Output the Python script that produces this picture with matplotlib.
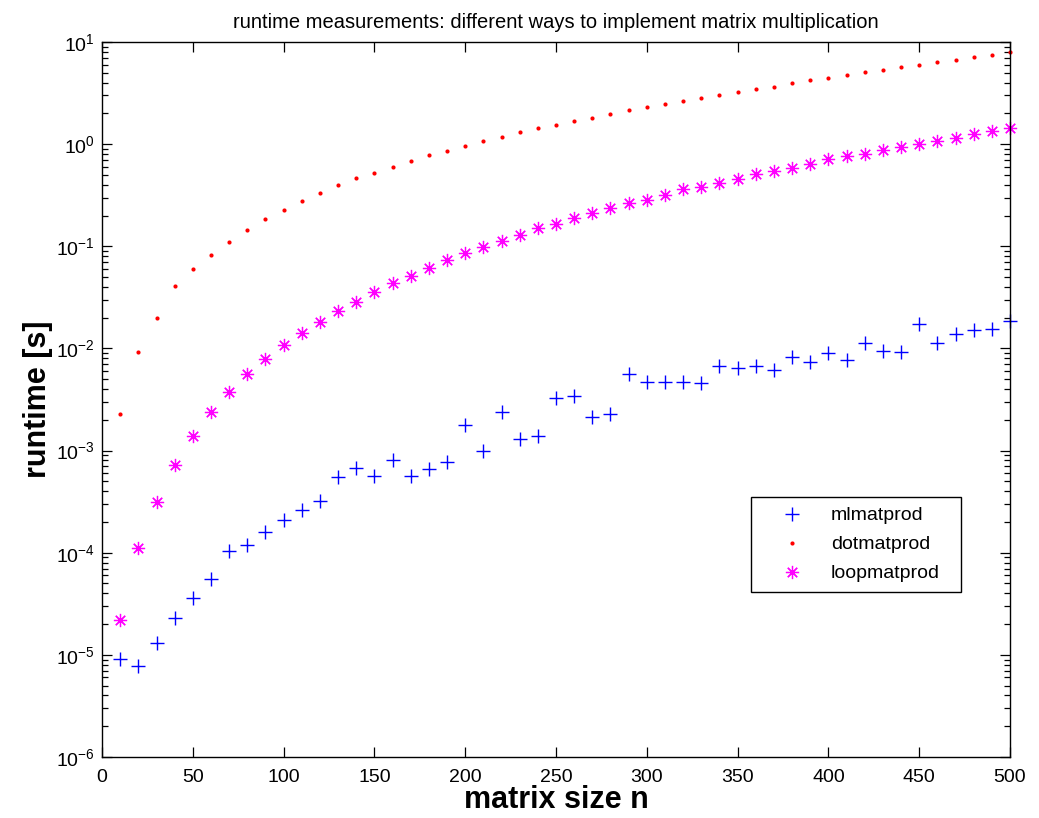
import numpy as np
import matplotlib
matplotlib.use("Agg")
import matplotlib.pyplot as plt

plt.rcParams['font.family'] = ['Liberation Sans', 'DejaVu Sans']
plt.rcParams['mathtext.fontset'] = 'custom'
plt.rcParams['mathtext.rm'] = 'Liberation Sans'
plt.rcParams['mathtext.it'] = 'Liberation Sans:italic'
plt.rcParams['mathtext.bf'] = 'Liberation Sans:bold'

# matrix sizes
n = list(range(10, 501, 10))

# runtime in seconds, built-in matrix product
mlmatprod = [9.1e-6, 7.7e-6, 1.3e-5, 2.3e-5, 3.6e-5, 5.5e-5, 1.05e-4, 1.18e-4, 1.6e-4, 2.1e-4,
             2.6e-4, 3.2e-4, 5.5e-4, 6.7e-4, 5.6e-4, 8.1e-4, 5.6e-4, 6.6e-4, 7.8e-4, 1.78e-3,
             1.0e-3, 2.4e-3, 1.29e-3, 1.38e-3, 3.24e-3, 3.45e-3, 2.14e-3, 2.3e-3, 5.6e-3, 4.65e-3,
             4.65e-3, 4.65e-3, 4.57e-3, 6.65e-3, 6.5e-3, 6.76e-3, 6.2e-3, 8.3e-3, 7.4e-3, 9.1e-3,
             7.7e-3, 1.13e-2, 9.4e-3, 9.25e-3, 1.75e-2, 1.12e-2, 1.39e-2, 1.51e-2, 1.55e-2, 1.87e-2]

# runtime in seconds, row-times-column dot products
dotmatprod = [2.26e-3, 9.25e-3, 2.0e-2, 4.08e-2, 5.98e-2, 8.14e-2, 0.109, 0.144, 0.183, 0.228,
              0.277, 0.334, 0.394, 0.461, 0.520, 0.595, 0.676, 0.774, 0.859, 0.954,
              1.077, 1.18, 1.31, 1.43, 1.54, 1.69, 1.82, 1.98, 2.14, 2.29,
              2.48, 2.65, 2.85, 3.05, 3.25, 3.44, 3.66, 3.94, 4.21, 4.48,
              4.76, 5.05, 5.36, 5.65, 6.0, 6.42, 6.71, 7.07, 7.46, 7.91]

# runtime in seconds, triple loop
loopmatprod = [2.2e-5, 1.12e-4, 3.16e-4, 7.2e-4, 1.38e-3, 2.36e-3, 3.71e-3, 5.6e-3, 7.8e-3, 1.07e-2,
               1.41e-2, 1.83e-2, 2.31e-2, 2.87e-2, 3.56e-2, 4.41e-2, 5.16e-2, 6.18e-2, 7.40e-2, 8.53e-2,
               9.75e-2, 0.112, 0.129, 0.152, 0.166, 0.187, 0.210, 0.235, 0.263, 0.285,
               0.315, 0.366, 0.379, 0.419, 0.451, 0.505, 0.543, 0.590, 0.641, 0.718,
               0.757, 0.809, 0.871, 0.927, 1.007, 1.08, 1.16, 1.25, 1.34, 1.43]

fig = plt.figure(figsize=(10.39, 8.18), dpi=100)
ax = fig.add_axes([0.0982, 0.0746, 0.8739, 0.8741])

# eight-armed asterisk (a '+' overlaid with an 'x')
asterisk = (8, 2, 0)
ax.plot(n, mlmatprod, linestyle='none', marker='+', markersize=9.5, markeredgewidth=1.0,
        color='#0000ff', label='mlmatprod', clip_on=False)
ax.plot(n, dotmatprod, linestyle='none', marker='o', markersize=3.0, markeredgewidth=0,
        color='#ff0000', label='dotmatprod', clip_on=False)
ax.plot(n, loopmatprod, linestyle='none', marker=asterisk, markersize=9.5, markeredgewidth=0.9,
        color='#ff00ff', label='loopmatprod', clip_on=False)

ax.set_yscale('log')
ax.set_xlim(0, 500)
ax.set_ylim(1e-6, 10)
ax.set_xticks(np.arange(0, 501, 50))
ax.yaxis.set_major_locator(matplotlib.ticker.FixedLocator([10.0 ** k for k in range(-6, 2)]))
ax.yaxis.set_major_formatter(matplotlib.ticker.LogFormatterSciNotation())
ax.yaxis.set_minor_locator(matplotlib.ticker.FixedLocator(
    [m * 10.0 ** k for k in range(-6, 1) for m in range(2, 10)]))
ax.yaxis.set_minor_formatter(matplotlib.ticker.NullFormatter())
ax.tick_params(axis='both', which='both', direction='in', top=True, right=True,
               labelsize=14, width=0.9)
ax.tick_params(axis='both', which='major', length=7)
ax.tick_params(axis='x', which='major', pad=9)
ax.tick_params(axis='y', which='major', pad=5)
ax.tick_params(axis='y', which='minor', length=4, labelleft=False, labelright=False)
for s in ax.spines.values():
    s.set_linewidth(1.0)

ax.set_title('runtime measurements: different ways to implement matrix multiplication',
             fontsize=14.5, pad=10)
ax.set_xlabel('matrix size n', fontsize=22, fontweight='bold', labelpad=-1)
ax.set_ylabel('runtime [s]', fontsize=22, fontweight='bold', labelpad=2)

leg = ax.legend(loc='upper left', bbox_to_anchor=(0.7148, 0.20, 0.2313, 0.1636), mode='expand',
                fontsize=14, fancybox=False, framealpha=1, edgecolor='black', borderpad=0.5,
                handletextpad=0.4, labelspacing=0.59, handlelength=3.2, borderaxespad=0)
leg.get_frame().set_linewidth(1.0)

fig.savefig('out.png', dpi=100)
